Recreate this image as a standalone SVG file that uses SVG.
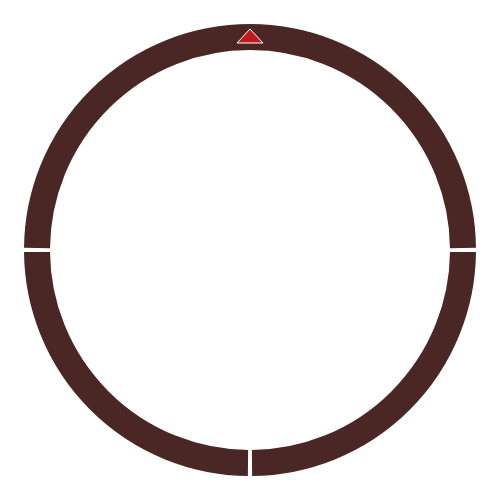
<svg xmlns="http://www.w3.org/2000/svg" width="500" height="500" viewBox="0 0 500 500">
<style>
.seg{fill:none;stroke:#4a2624;stroke-width:26;stroke-linecap:butt}
.mark{fill:#c1191c;stroke:#ffffff;stroke-width:1}
</style>
<rect width="500" height="500" fill="#ffffff"/>
<g id="ring">
<path class="seg" d="M37.01,248 A213,213 0 0 1 462.99,248"/>
<path class="seg" d="M462.99,252 A213,213 0 0 1 252,462.99"/>
<path class="seg" d="M248,462.99 A213,213 0 0 1 37.01,252"/>
</g>
<g id="marker">
<polygon class="mark" points="250,29 237,43 263,43"/>
</g>
</svg>
